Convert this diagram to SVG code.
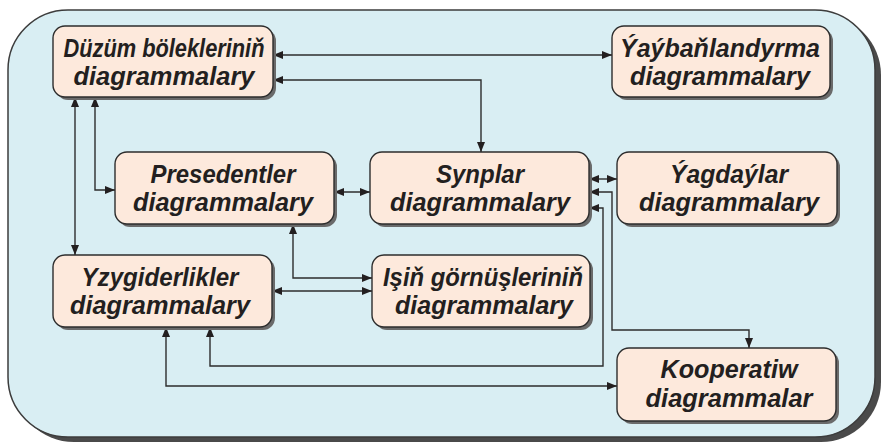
<svg xmlns="http://www.w3.org/2000/svg" width="885" height="445" viewBox="0 0 885 445">
<defs>
<marker id="ah" markerUnits="userSpaceOnUse" markerWidth="10" markerHeight="8" refX="10" refY="4" orient="auto-start-reverse">
<path d="M0,0 L10,4 L0,8 Z" fill="#231f20"/>
</marker>
</defs>
<style>
.frame{fill:#d9eef3;stroke:#3c3c3c;stroke-width:1.5}
.fshadow{fill:#4a4a4a}
.box{fill:#fde9dc;stroke:#2d2d2d;stroke-width:1.4}
.shadow{fill:#6a6a6a}
.lbl{font-family:"Liberation Sans",Arial,sans-serif;font-weight:bold;font-style:italic;font-size:25px;fill:#231f20;text-anchor:middle}
.con{fill:none;stroke:#2d2d2d;stroke-width:1.4;marker-start:url(#ah);marker-end:url(#ah)}
</style>
<rect x="0" y="0" width="885" height="445" fill="#ffffff"/>
<rect class="fshadow" x="14" y="15" width="867" height="427" rx="60"/>
<rect class="frame" x="8" y="10" width="867" height="427" rx="60"/>

<g id="connectors">
<path class="con" d="M273,55 H612"/>
<path class="con" d="M273,80 H481 V152"/>
<path class="con" d="M75,97 V255"/>
<path class="con" d="M95,97 V190 H115"/>
<path class="con" d="M334,192 H370"/>
<path class="con" d="M293,224 V278 H372"/>
<path class="con" d="M272,291 H372"/>
<path class="con" d="M589,179 H617"/>
<path class="con" d="M589,192 H612 V330 H749 V348"/>
<path class="con" d="M589,208 H603 V366 H210 V327"/>
<path class="con" d="M166,327 V386 H617"/>
</g>

<g id="duzum">
<rect class="shadow" x="56" y="29" width="220" height="71" rx="12"/>
<rect class="box" x="53" y="26" width="220" height="71" rx="12"/>
<text class="lbl"><tspan x="164" y="57" textLength="201" lengthAdjust="spacingAndGlyphs">Düzüm bölekleriniň</tspan><tspan x="164" y="85" textLength="181" lengthAdjust="spacingAndGlyphs">diagrammalary</tspan></text>
</g>
<g id="yaybanlandyrma">
<rect class="shadow" x="615" y="29" width="218" height="71" rx="12"/>
<rect class="box" x="612" y="26" width="218" height="71" rx="12"/>
<text class="lbl"><tspan x="720" y="57" textLength="200" lengthAdjust="spacingAndGlyphs">Ýaýbaňlandyrma</tspan><tspan x="720" y="85" textLength="180" lengthAdjust="spacingAndGlyphs">diagrammalary</tspan></text>
</g>
<g id="presedentler">
<rect class="shadow" x="118" y="155" width="219" height="72" rx="12"/>
<rect class="box" x="115" y="152" width="219" height="72" rx="12"/>
<text class="lbl"><tspan x="223" y="183" textLength="145" lengthAdjust="spacingAndGlyphs">Presedentler</tspan><tspan x="223" y="211" textLength="180" lengthAdjust="spacingAndGlyphs">diagrammalary</tspan></text>
</g>
<g id="synplar">
<rect class="shadow" x="373" y="155" width="219" height="72" rx="12"/>
<rect class="box" x="370" y="152" width="219" height="72" rx="12"/>
<text class="lbl"><tspan x="480" y="183" textLength="88" lengthAdjust="spacingAndGlyphs">Synplar</tspan><tspan x="480" y="211" textLength="180" lengthAdjust="spacingAndGlyphs">diagrammalary</tspan></text>
</g>
<g id="yagdaylar">
<rect class="shadow" x="620" y="155" width="220" height="72" rx="12"/>
<rect class="box" x="617" y="152" width="220" height="72" rx="12"/>
<text class="lbl"><tspan x="729" y="183" textLength="118" lengthAdjust="spacingAndGlyphs">Ýagdaýlar</tspan><tspan x="729" y="211" textLength="180" lengthAdjust="spacingAndGlyphs">diagrammalary</tspan></text>
</g>
<g id="yzygiderlikler">
<rect class="shadow" x="56" y="258" width="219" height="72" rx="12"/>
<rect class="box" x="53" y="255" width="219" height="72" rx="12"/>
<text class="lbl"><tspan x="160" y="286" textLength="157" lengthAdjust="spacingAndGlyphs">Yzygiderlikler</tspan><tspan x="160" y="314" textLength="180" lengthAdjust="spacingAndGlyphs">diagrammalary</tspan></text>
</g>
<g id="isin">
<rect class="shadow" x="375" y="258" width="218" height="72" rx="12"/>
<rect class="box" x="372" y="255" width="218" height="72" rx="12"/>
<text class="lbl"><tspan x="483" y="286" textLength="200" lengthAdjust="spacingAndGlyphs">Işiň görnüşleriniň</tspan><tspan x="484" y="314" textLength="178" lengthAdjust="spacingAndGlyphs">diagrammalary</tspan></text>
</g>
<g id="kooperatiw">
<rect class="shadow" x="620" y="351" width="219" height="73" rx="12"/>
<rect class="box" x="617" y="348" width="219" height="73" rx="12"/>
<text class="lbl"><tspan x="729" y="378" textLength="137" lengthAdjust="spacingAndGlyphs">Kooperatiw</tspan><tspan x="729" y="407" textLength="167" lengthAdjust="spacingAndGlyphs">diagrammalar</tspan></text>
</g>
</svg>
